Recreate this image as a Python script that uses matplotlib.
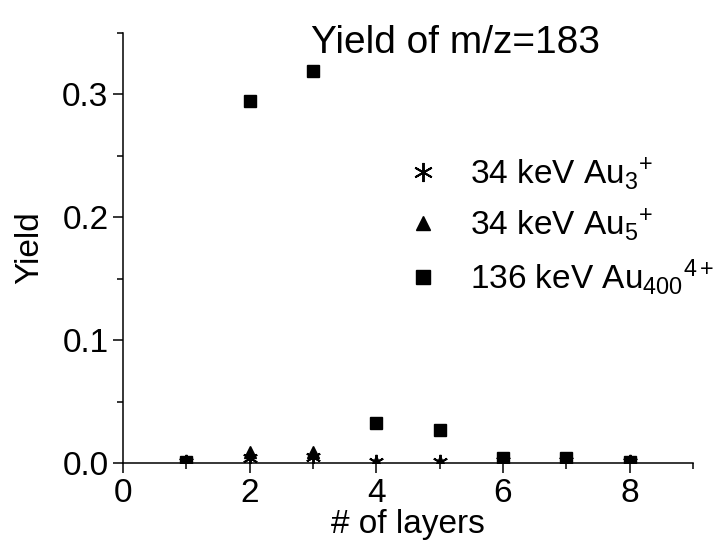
import matplotlib.pyplot as plt
from matplotlib.ticker import MultipleLocator

plt.rcParams['font.family'] = ['Liberation Sans', 'DejaVu Sans']
plt.rcParams['mathtext.fontset'] = 'custom'
plt.rcParams['mathtext.rm'] = 'Liberation Sans'
plt.rcParams['mathtext.it'] = 'Liberation Sans'

# number of layers
layers = [1, 2, 3, 4, 5, 6, 7, 8]
# yields
yield_au3 = [0.001, 0.004, 0.005, 0.001, 0.001, 0.002, 0.002, 0.001]
yield_au5 = [0.001, 0.009, 0.009, 0.001, 0.001, 0.003, 0.003, 0.001]
yield_au400 = [0.001, 0.295, 0.319, 0.0325, 0.027, 0.004, 0.004, 0.001]
labels = [r"34 keV Au$_{3}$$^{+}$", r"34 keV Au$_{5}$$^{+}$", r"136 keV Au$_{400}$$^{4+}$"]

fig = plt.figure(figsize=(7.14, 5.5), dpi=100)
ax = fig.add_axes([0.1723, 0.1582, 0.7983, 0.7818])

ax.plot(layers, yield_au3, linestyle='none', marker=(6, 2, 0), markersize=11,
        markeredgewidth=1.4, color='black', label=labels[0])
ax.plot(layers, yield_au5, linestyle='none', marker='^', markersize=8,
        color='black', label=labels[1])
ax.plot(layers, yield_au400, linestyle='none', marker='s', markersize=8.5,
        color='black', label=labels[2])

ax.set_xlim(0, 9)
ax.set_ylim(0, 0.35)
ax.xaxis.set_major_locator(MultipleLocator(2))
ax.xaxis.set_minor_locator(MultipleLocator(1))
ax.yaxis.set_major_locator(MultipleLocator(0.1))
ax.yaxis.set_minor_locator(MultipleLocator(0.05))
ax.yaxis.set_major_formatter(lambda v, p: f"{v:.1f}")

for s in ['top', 'right']:
    ax.spines[s].set_visible(False)
for s in ['left', 'bottom']:
    ax.spines[s].set_linewidth(1.1)

ax.tick_params(which='major', direction='out', length=7, width=1.1, labelsize=24)
ax.tick_params(which='minor', direction='out', length=4, width=1.1)

ax.set_xlabel('# of layers', fontsize=24, labelpad=0)
ax.set_ylabel('Yield', fontsize=24, labelpad=12)
ax.text(0.584, 1.018, 'Yield of m/z=183', transform=ax.transAxes, fontsize=28,
        ha='center', va='top')

ax.legend(loc='upper left', bbox_to_anchor=(0.445, 0.785), frameon=False,
          fontsize=24, markerscale=1.25, handlelength=1.0, handletextpad=0.9,
          labelspacing=0.42)

fig.savefig('out.png', dpi=100)
